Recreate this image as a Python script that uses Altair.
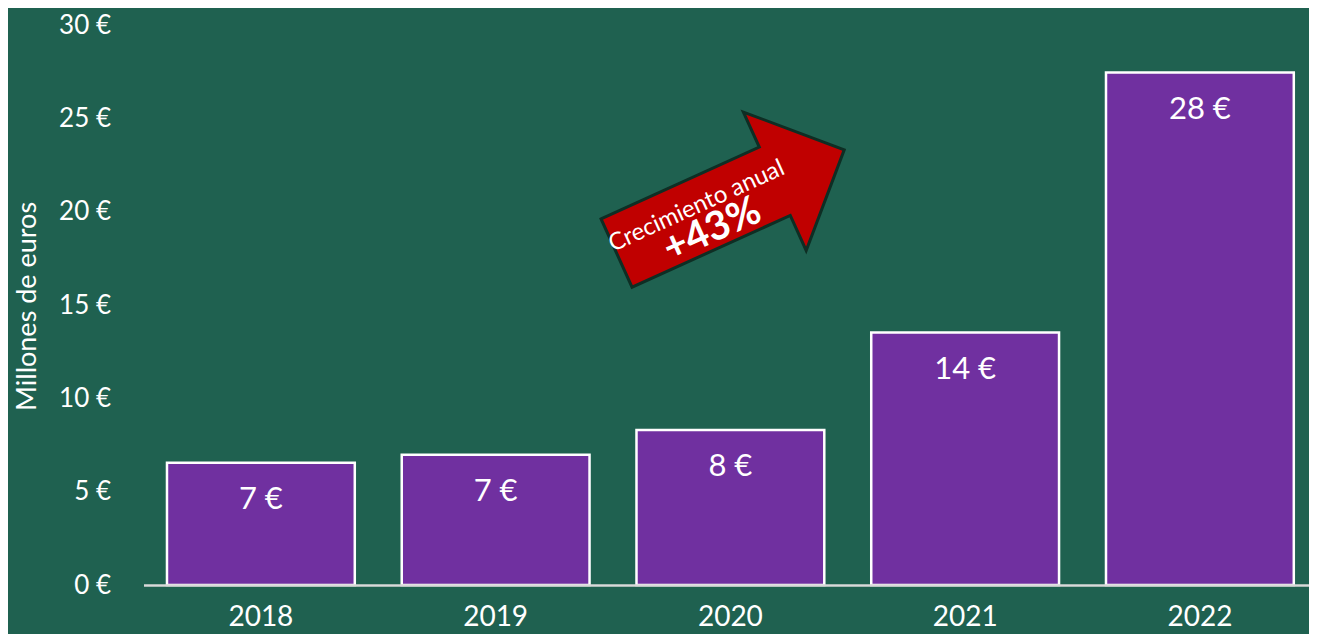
import altair as alt
import pandas as pd

# ---- data ----
years = ["2018", "2019", "2020", "2021", "2022"]
values = [6.55, 6.98, 8.31, 13.53, 27.45]
labels = ["7 €", "7 €", "8 €", "14 €", "28 €"]
y_ticks = [0, 5, 10, 15, 20, 25, 30]

note_year = ["2020"]
arrow_value = [20.55]
note_text = ["Crecimiento anual", "+43%"]
note_value = [21.1, 19.45]

BG = "#1F6150"
PURPLE = "#7030A0"
RED = "#C00000"
FONT = "Lato"

df = pd.DataFrame({"year": years, "value": values, "label": labels})
arrow_df = pd.DataFrame({"year": note_year, "value": arrow_value})
note1_df = pd.DataFrame({"year": note_year, "value": [note_value[0]], "t": [note_text[0]]})
note2_df = pd.DataFrame({"year": note_year, "value": [note_value[1]], "t": [note_text[1]]})

x_enc = alt.X(
    "year:N",
    scale=alt.Scale(domain=years, paddingInner=0.2, paddingOuter=0.0824, align=0.607),
    axis=alt.Axis(
        title=None, labelAngle=0, labelFontSize=28, labelPadding=18,
        labelColor="white", labelFont=FONT, ticks=False, domain=True,
        domainColor="#D9D9D9", domainWidth=2.5, grid=False, zindex=1,
    ),
)
y_enc = alt.Y(
    "value:Q",
    scale=alt.Scale(domain=[0, 30], nice=False, zero=True),
    axis=alt.Axis(
        values=y_ticks, labelExpr="datum.value + ' €'", labelFontSize=26,
        labelColor="white", labelFont=FONT, labelPadding=33, ticks=False,
        domain=False, grid=False,
        title="Millones de euros", titleColor="white", titleFont=FONT,
        titleFontSize=27, titleFontWeight="normal", titleAngle=270,
        titleX=-116.5, titleY=281, titleAlign="center", titleBaseline="middle",
    ),
)

bars = alt.Chart(df).mark_bar(
    color=PURPLE, stroke="white", strokeWidth=2.5
).encode(x=x_enc, y=y_enc)

bar_text = alt.Chart(df).mark_text(
    dy=37.5, baseline="middle", align="center", fontSize=31, font=FONT, color="white"
).encode(x="year:N", y="value:Q", text="label:N")

arrow_path = "M-1,-0.3L0.39,-0.3L0.39,-0.608L1,0L0.39,0.608L0.39,0.3L-1,0.3Z"
arrow = alt.Chart(arrow_df).mark_point(
    shape=arrow_path, size=62500, angle=335.6, filled=True,
    fill=RED, stroke="#0E2E24", strokeWidth=3, opacity=1,
).encode(x="year:N", y="value:Q")

note1 = alt.Chart(note1_df).mark_text(
    angle=335.6, align="center", baseline="middle", fontSize=24, font=FONT,
    color="white", dx=-37,
).encode(x="year:N", y="value:Q", text="t:N")

note2 = alt.Chart(note2_df).mark_text(
    angle=335.6, align="center", baseline="middle", fontSize=40, font=FONT,
    fontWeight="bold", color="white", dx=-20,
).encode(x="year:N", y="value:Q", text="t:N")

chart = (
    alt.layer(bars, bar_text, arrow, note1, note2)
    .properties(
        width=1165.5, height=560,
        autosize=alt.AutoSizeParams(type="none"),
        padding={"left": 135.5, "top": 17, "right": 0, "bottom": 49},
        background=BG,
    )
    .configure_view(strokeWidth=0)
)

chart.save("out.html", embed_options={"renderer": "svg", "actions": False})
